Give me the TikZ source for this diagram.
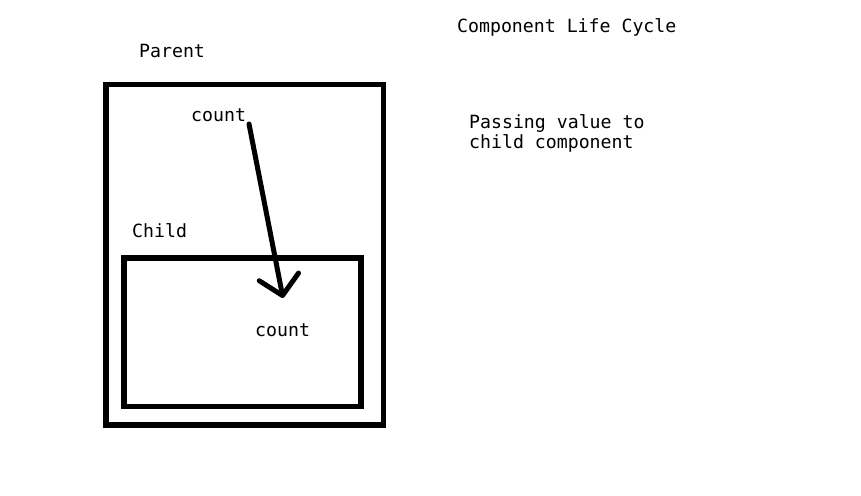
\documentclass[tikz,border=0pt]{standalone}
\usepackage{fontspec}
\setmonofont{DejaVu Sans Mono}
\usetikzlibrary{arrows.meta,positioning}

\begin{document}
\begin{tikzpicture}[x=1pt,y=-1pt,
    box/.style={draw,line width=5.5pt},
    lbl/.style={anchor=base west,inner sep=0pt,align=left,
                font=\ttfamily\fontsize{18.2}{20}\selectfont}]

    \useasboundingbox[fill=white] (0,0) rectangle (861,495);

    % frames
    \draw[box] (106,84.5) rectangle (383.5,425) ;
    \draw[box] (124,258) rectangle (361,406.5);

    % labels
    \node[lbl] (title) at (457,33) {Component Life Cycle};
    \node[lbl] (note) at (469,148) {Passing value to\\child component};
    \node[lbl] (parent) at (139,58) {Parent};
    \node[lbl] (child) at (132,237) {Child};
    \node[lbl] (pcount) at (191,121) {count};
    \node[lbl] (ccount) at (255,336) {count};

    % value passed down
    \coordinate (src) at (249,124);
    \coordinate (dst) at (283,298);
    \draw[line width=5pt,line cap=round,
          -{Straight Barb[length=19pt,width=40pt,line width=5pt,round]}]
          (src) -- (dst);

\end{tikzpicture}
\end{document}
